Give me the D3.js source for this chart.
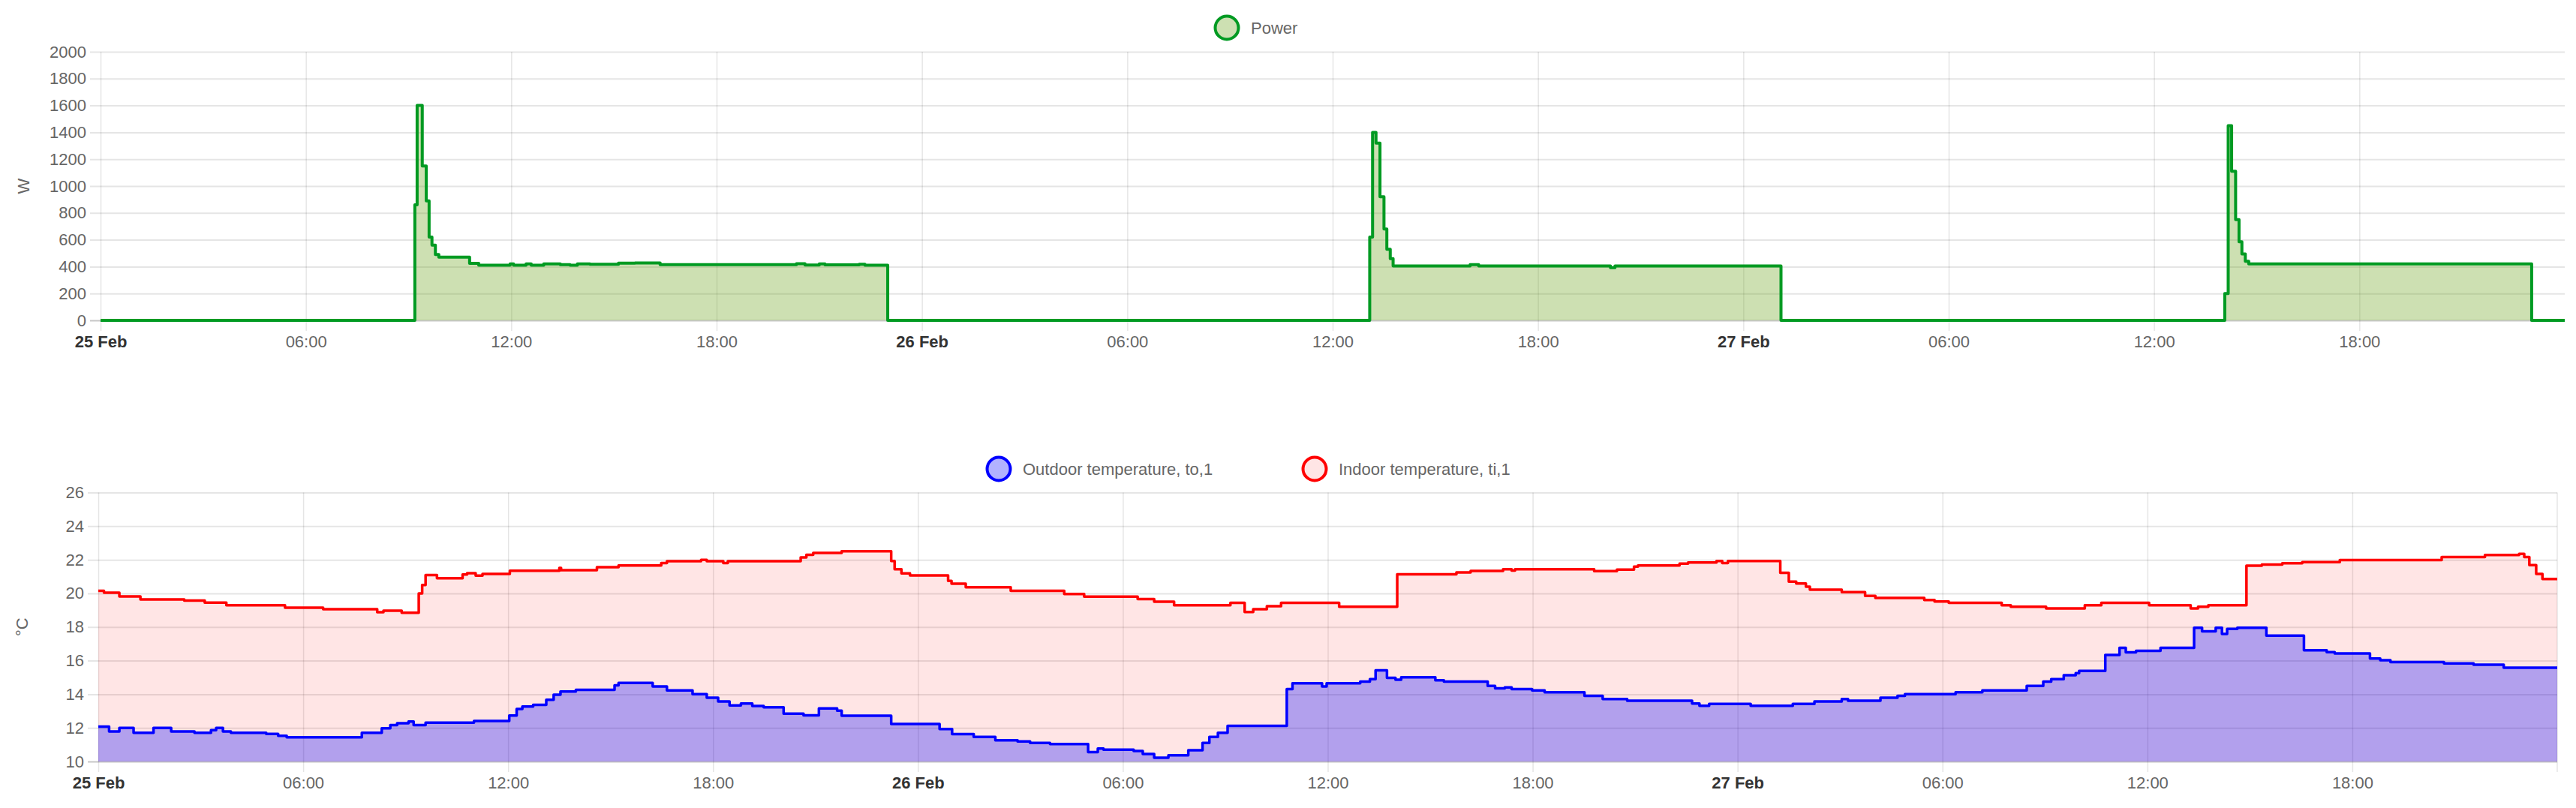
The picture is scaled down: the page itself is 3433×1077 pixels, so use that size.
<!DOCTYPE html>
<html><head><meta charset="utf-8">
<script src="https://cdn.jsdelivr.net/npm/d3@7"></script>
<style>
html,body{margin:0;padding:0;background:#fff;}
svg{display:block;font-family:"Liberation Sans",Arial,Helvetica,sans-serif;}
</style></head><body>
<svg id="chart" width="3433" height="1077"></svg>
<script>
// ---------------- DATA ----------------
const timeStart = "02-25 00:00";
const timeEnd = "02-28 00:00";

const powerData = [
["02-25 00:00",0],["02-25 09:11",860],["02-25 09:15",1600],["02-25 09:24",1150],["02-25 09:31",890],["02-25 09:36",620],["02-25 09:41",560],["02-25 09:47",490],["02-25 09:53",470],["02-25 10:47",425],["02-25 11:03",410],["02-25 11:58",420],["02-25 12:04",410],["02-25 12:26",420],["02-25 12:35",410],["02-25 12:57",420],["02-25 13:26",415],["02-25 13:43",410],["02-25 13:56",420],["02-25 14:18",418],["02-25 15:08",426],["02-25 15:37",428],["02-25 16:21",415],["02-25 20:20",422],["02-25 20:35",412],["02-25 21:00",420],["02-25 21:10",413],["02-25 22:10",418],["02-25 22:20",410],["02-25 23:00",0],
["02-26 13:05",620],["02-26 13:10",1400],["02-26 13:16",1320],["02-26 13:23",920],["02-26 13:30",680],["02-26 13:35",530],["02-26 13:41",460],["02-26 13:46",405],["02-26 16:01",415],["02-26 16:16",405],["02-26 20:07",392],["02-26 20:15",405],["02-27 01:06",0],
["02-27 14:04",200],["02-27 14:10",1450],["02-27 14:16",1110],["02-27 14:23",750],["02-27 14:29",585],["02-27 14:34",495],["02-27 14:40",440],["02-27 14:46",420],["02-27 23:02",0],["02-28 00:00",0]
];

const outdoorData = [
["02-25 00:00",12.08],["02-25 00:19",11.79],["02-25 00:37",12.0],["02-25 01:02",11.71],["02-25 01:37",12.0],["02-25 02:08",11.79],["02-25 02:49",11.71],["02-25 03:18",11.86],["02-25 03:27",12.0],["02-25 03:39",11.79],["02-25 03:53",11.71],["02-25 04:55",11.64],["02-25 05:16",11.53],["02-25 05:31",11.44],["02-25 07:43",11.71],["02-25 08:18",11.98],["02-25 08:33",12.16],["02-25 08:45",12.28],["02-25 09:05",12.38],["02-25 09:14",12.16],["02-25 09:35",12.31],["02-25 11:00",12.41],["02-25 12:02",12.73],["02-25 12:15",13.12],["02-25 12:25",13.27],["02-25 12:44",13.37],["02-25 13:07",13.67],["02-25 13:20",13.97],["02-25 13:32",14.16],["02-25 13:59",14.26],["02-25 15:07",14.53],["02-25 15:14",14.68],["02-25 16:14",14.46],["02-25 16:39",14.23],["02-25 17:24",14.01],["02-25 17:49",13.79],["02-25 18:09",13.57],["02-25 18:29",13.34],["02-25 18:49",13.45],["02-25 19:09",13.3],["02-25 19:29",13.22],["02-25 20:04",12.85],["02-25 20:39",12.75],["02-25 21:06",13.16],["02-25 21:38",13.02],["02-25 21:46",12.72],["02-25 23:13",12.23],
["02-26 00:38",11.93],["02-26 01:00",11.63],["02-26 01:38",11.46],["02-26 02:16",11.26],["02-26 02:55",11.19],["02-26 03:17",11.11],["02-26 03:52",11.04],["02-26 04:59",10.56],["02-26 05:16",10.77],["02-26 05:26",10.7],["02-26 06:19",10.62],["02-26 06:35",10.45],["02-26 06:55",10.22],["02-26 07:20",10.37],["02-26 07:55",10.67],["02-26 08:20",11.11],["02-26 08:32",11.46],["02-26 08:47",11.71],["02-26 09:04",12.12],["02-26 10:48",14.31],["02-26 10:58",14.65],["02-26 11:50",14.46],["02-26 11:58",14.65],["02-26 12:57",14.75],["02-26 13:14",14.9],["02-26 13:24",15.42],["02-26 13:44",14.98],["02-26 13:59",14.87],["02-26 14:09",15.01],["02-26 15:09",14.83],["02-26 15:24",14.75],["02-26 16:41",14.5],["02-26 16:54",14.35],["02-26 17:11",14.41],["02-26 17:23",14.31],["02-26 17:59",14.23],["02-26 18:21",14.12],["02-26 19:31",13.91],["02-26 20:03",13.71],["02-26 20:46",13.61],["02-26 22:40",13.45],["02-26 22:53",13.31],["02-26 23:10",13.42],
["02-27 00:23",13.31],["02-27 01:37",13.42],["02-27 02:15",13.57],["02-27 03:03",13.71],["02-27 03:14",13.61],["02-27 04:11",13.79],["02-27 04:41",13.91],["02-27 04:54",14.01],["02-27 06:23",14.12],["02-27 07:10",14.23],["02-27 08:28",14.5],["02-27 08:57",14.75],["02-27 09:11",14.9],["02-27 09:33",15.13],["02-27 09:54",15.25],["02-27 10:00",15.39],["02-27 10:46",16.34],["02-27 11:11",16.76],["02-27 11:22",16.49],["02-27 11:40",16.58],["02-27 12:23",16.76],["02-27 13:22",17.96],["02-27 13:36",17.74],["02-27 14:00",17.96],["02-27 14:11",17.59],["02-27 14:20",17.89],["02-27 14:38",17.96],["02-27 15:29",17.49],["02-27 16:35",16.62],["02-27 17:15",16.5],["02-27 17:29",16.43],["02-27 18:31",16.13],["02-27 18:49",16.03],["02-27 19:07",15.91],["02-27 20:41",15.83],["02-27 21:33",15.76],["02-27 22:26",15.58],["02-28 00:00",15.58]
];

const indoorData = [
["02-25 00:00",20.15],["02-25 00:10",20.04],["02-25 00:37",19.82],["02-25 01:14",19.64],["02-25 02:31",19.57],["02-25 03:07",19.45],["02-25 03:45",19.29],["02-25 05:28",19.15],["02-25 06:35",19.06],["02-25 08:10",18.88],["02-25 08:21",18.97],["02-25 08:53",18.85],["02-25 09:23",20.0],["02-25 09:29",20.5],["02-25 09:35",21.09],["02-25 09:55",20.9],["02-25 10:40",21.12],["02-25 10:48",21.2],["02-25 11:03",21.06],["02-25 11:15",21.16],["02-25 12:03",21.35],["02-25 13:30",21.52],["02-25 13:33",21.38],["02-25 14:36",21.56],["02-25 15:14",21.66],["02-25 16:29",21.81],["02-25 16:39",21.92],["02-25 17:39",21.99],["02-25 17:49",21.92],["02-25 18:18",21.81],["02-25 18:26",21.92],["02-25 20:34",22.14],["02-25 20:44",22.3],["02-25 20:56",22.41],["02-25 21:46",22.51],["02-25 23:13",21.93],["02-25 23:19",21.44],["02-25 23:31",21.19],["02-25 23:46",21.07],
["02-26 00:53",20.75],["02-26 00:59",20.58],["02-26 01:24",20.37],["02-26 02:43",20.15],["02-26 04:17",19.96],["02-26 04:52",19.81],["02-26 06:26",19.66],["02-26 06:55",19.51],["02-26 07:30",19.29],["02-26 09:09",19.44],["02-26 09:34",18.89],["02-26 09:49",19.06],["02-26 10:13",19.24],["02-26 10:38",19.44],["02-26 12:20",19.21],["02-26 14:02",21.14],["02-26 15:46",21.25],["02-26 16:11",21.34],["02-26 17:08",21.44],["02-26 17:23",21.36],["02-26 17:29",21.44],["02-26 19:48",21.32],["02-26 20:28",21.41],["02-26 20:58",21.59],["02-26 21:05",21.66],["02-26 22:18",21.77],["02-26 22:33",21.84],["02-26 23:23",21.93],["02-26 23:33",21.81],["02-26 23:43",21.93],
["02-27 01:15",21.22],["02-27 01:30",20.7],["02-27 01:43",20.59],["02-27 02:00",20.4],["02-27 02:07",20.22],["02-27 03:03",20.07],["02-27 03:44",19.85],["02-27 04:02",19.73],["02-27 05:28",19.61],["02-27 05:46",19.52],["02-27 06:11",19.44],["02-27 07:44",19.29],["02-27 08:00",19.21],["02-27 09:02",19.11],["02-27 10:10",19.29],["02-27 10:39",19.44],["02-27 12:03",19.29],["02-27 13:16",19.11],["02-27 13:29",19.21],["02-27 13:47",19.29],["02-27 14:54",21.65],["02-27 15:21",21.71],["02-27 15:57",21.79],["02-27 16:32",21.86],["02-27 17:38",21.98],["02-27 20:37",22.16],["02-27 21:53",22.28],["02-27 22:53",22.35],["02-27 23:02",22.16],["02-27 23:11",21.68],["02-27 23:23",21.16],["02-27 23:34",20.86],["02-28 00:00",20.86]
];

const powerTicks = [0,200,400,600,800,1000,1200,1400,1600,1800,2000];
const tempTicks = [10,12,14,16,18,20,22,24,26];
const powerAxisTitle = "W";
const tempAxisTitle = "°C";
const powerLegend = ["Power"];
const tempLegend = ["Outdoor temperature, to,1", "Indoor temperature, ti,1"];

// ---------------- DRAWING ----------------
const parse = d3.timeParse("%m-%d %H:%M");
const svg = d3.select("#chart");
const GRID = "rgba(0,0,0,0.1)";
const ZERO = "rgba(0,0,0,0.22)";
const TXT = "#666";
const FS = 22;

const fmtDay = d3.timeFormat("%d %b");
const fmtHour = d3.timeFormat("%H:%M");
const isMidnight = d => d.getHours() === 0 && d.getMinutes() === 0;

function panel(cfg) {
  const {left, right, top, bottom} = cfg;
  const x = d3.scaleTime().domain([parse(timeStart), parse(timeEnd)]).range([left, right]);
  const y = d3.scaleLinear().domain([cfg.ticks[0], cfg.ticks[cfg.ticks.length-1]]).range([bottom, top]);
  const xt = d3.timeHour.every(6).range(parse(timeStart), parse(timeEnd));

  // Y axis + horizontal grid
  const gy = svg.append("g").attr("transform", `translate(${left},0)`)
    .call(d3.axisLeft(y).tickValues(cfg.ticks).tickFormat(d3.format("d")).tickSize(-(right-left)).tickPadding(19));
  gy.attr("font-size", FS).attr("font-family", null);
  gy.select(".domain").remove();
  gy.selectAll(".tick line").attr("x1", -14).attr("stroke-width", 2)
    .attr("stroke", (d,i) => i === 0 ? ZERO : GRID);
  gy.selectAll(".tick text").attr("fill", TXT);

  // X axis + vertical grid
  const gx = svg.append("g").attr("transform", `translate(0,${bottom})`)
    .call(d3.axisBottom(x).tickValues(xt).tickSize(-(bottom-top))
      .tickFormat(d => isMidnight(d) ? fmtDay(d) : fmtHour(d)));
  gx.attr("font-size", FS).attr("font-family", null);
  gx.select(".domain").remove();
  gx.selectAll(".tick line").attr("y1", 14).attr("stroke", GRID).attr("stroke-width", 1.5);
  gx.selectAll(".tick text").attr("y", 36).attr("dy", null)
    .attr("fill", d => isMidnight(d) ? "#333" : TXT)
    .attr("font-weight", d => isMidnight(d) ? "bold" : "normal");
  if (cfg.rightBorder) {
    svg.append("line").attr("x1", right).attr("x2", right).attr("y1", top).attr("y2", bottom+14)
      .attr("stroke", GRID).attr("stroke-width", 1.5);
  }

  // axis title
  svg.append("text").attr("transform", `translate(${cfg.titleX},${(top+bottom)/2}) rotate(-90)`)
    .attr("text-anchor", "middle").attr("dy", "0.35em").attr("font-size", FS).attr("fill", TXT)
    .text(cfg.title);

  // series (drawn in order given)
  cfg.series.forEach(s => {
    const data = s.data.map(d => [parse(d[0]), d[1]]);
    const area = d3.area().curve(d3.curveStepAfter).x(d => x(d[0])).y0(y(cfg.ticks[0])).y1(d => y(d[1]));
    svg.append("path").datum(data).attr("d", area).attr("fill", s.fill).attr("stroke", "none");
  });
  cfg.series.forEach(s => {
    const data = s.data.map(d => [parse(d[0]), d[1]]);
    const line = d3.line().curve(d3.curveStepAfter).x(d => x(d[0])).y(d => y(d[1]));
    svg.append("path").datum(data).attr("d", line).attr("fill", "none")
      .attr("stroke", s.stroke).attr("stroke-width", s.width).attr("stroke-linejoin", "round");
  });

  // legend
  cfg.legend.forEach(l => {
    svg.append("circle").attr("cx", l.cx).attr("cy", l.cy).attr("r", 15.5)
      .attr("fill", l.fill).attr("stroke", l.stroke).attr("stroke-width", 4);
    svg.append("text").attr("x", l.cx + 32).attr("y", l.cy + 8).attr("font-size", FS)
      .attr("fill", TXT).text(l.label);
  });
}

const GREEN = "#009a22", GREEN_FILL = "rgba(112,166,35,0.35)";
const RED = "#ff0000", RED_FILL = "rgba(255,0,0,0.1)";
const BLUE = "#0000ff", BLUE_FILL = "rgba(0,0,255,0.3)";

panel({
  left: 134, right: 3418, top: 69, bottom: 427, ticks: powerTicks, titleX: 31, title: powerAxisTitle,
  series: [{data: powerData, stroke: GREEN, fill: GREEN_FILL, width: 4}],
  legend: [{cx: 1635, cy: 37, fill: GREEN_FILL, stroke: GREEN, label: powerLegend[0]}]
});

panel({
  left: 131, right: 3408, top: 656.5, bottom: 1015, ticks: tempTicks, titleX: 29, title: tempAxisTitle,
  rightBorder: true,
  series: [
    {data: indoorData, stroke: RED, fill: RED_FILL, width: 3.5},
    {data: outdoorData, stroke: BLUE, fill: BLUE_FILL, width: 3.5}
  ],
  legend: [
    {cx: 1331, cy: 625, fill: BLUE_FILL, stroke: BLUE, label: tempLegend[0]},
    {cx: 1752, cy: 625, fill: RED_FILL, stroke: RED, label: tempLegend[1]}
  ]
});
</script>
</body></html>
